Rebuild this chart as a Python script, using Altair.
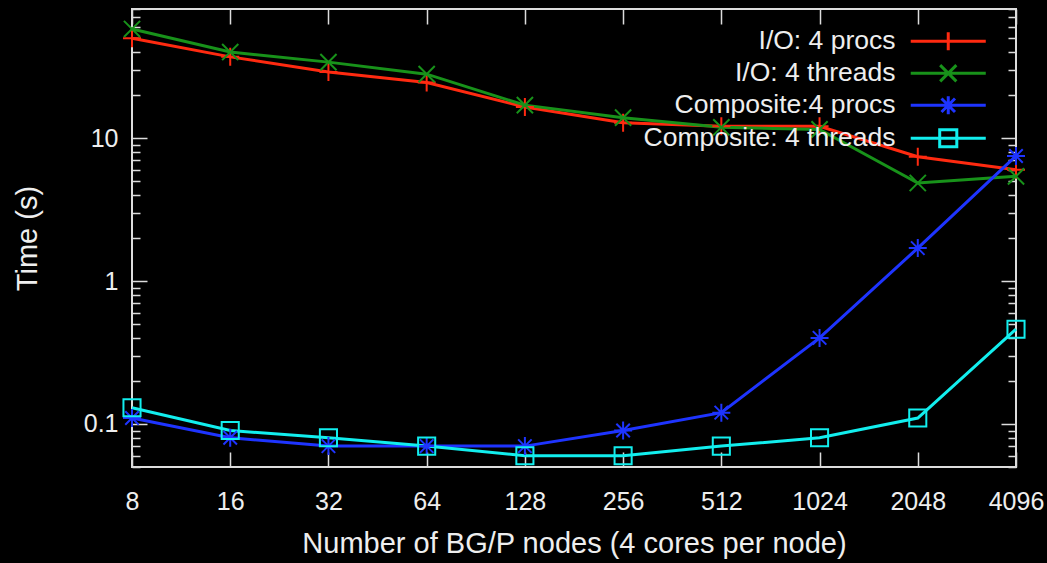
import altair as alt
import pandas as pd

# ---- data ----
nodes = [8, 16, 32, 64, 128, 256, 512, 1024, 2048, 4096]
io_procs = [50, 37, 29, 24.5, 16.5, 12.8, 12.1, 12.1, 7.4, 6.0]
io_threads = [58, 40, 34, 28, 17, 13.9, 11.9, 11.5, 4.85, 5.4]
comp_procs = [0.11, 0.08, 0.07, 0.07, 0.07, 0.09, 0.12, 0.40, 1.7, 7.5]
comp_threads = [0.13, 0.09, 0.08, 0.07, 0.06, 0.06, 0.07, 0.08, 0.11, 0.46]

series_names = ["I/O: 4 procs", "I/O: 4 threads", "Composite:4 procs", "Composite: 4 threads"]
series_colors = ["#ff2a10", "#18921a", "#1e34ff", "#12eeee"]

y_ticks = [0.05, 0.06, 0.07, 0.08, 0.09,
           0.1, 0.2, 0.3, 0.4, 0.5, 0.6, 0.7, 0.8, 0.9,
           1, 2, 3, 4, 5, 6, 7, 8, 9,
           10, 20, 30, 40, 50, 60, 70, 80]

# marker shapes (gnuplot style: +, x, *, open square)
plus = "M-1,0H1M0,-1V1"
cross = "M-0.9,-0.9L0.9,0.9M-0.9,0.9L0.9,-0.9"
star = "M-1,0H1M0,-1V1M-0.75,-0.75L0.75,0.75M-0.75,0.75L0.75,-0.75"
square = "M-0.95,-0.95H0.95V0.95H-0.95Z"
marker_paths = [plus, cross, star, square]
legend_paths = ["M-45,0M-4.17,0H4.17" + p for p in marker_paths]

rows = []
for name, vals in zip(series_names, [io_procs, io_threads, comp_procs, comp_threads]):
    for n, v in zip(nodes, vals):
        rows.append({"nodes": n, "time": v, "series": name})
df = pd.DataFrame(rows)

FONT = "Liberation Sans"
FG = "#eeeeee"
TICK = "#dcdcdc"

xscale = alt.Scale(type="log", base=2, domain=[8, 4096], nice=False)
yscale = alt.Scale(type="log", domain=[0.05, 80], nice=False)
major_expr = "indexof([0.1, 1, 10], datum.value) >= 0"
ytick_size = {"expr": major_expr + " ? -15 : -8"}

base = alt.Chart(df)

lines = base.mark_line(strokeWidth=3).encode(
    x=alt.X("nodes:Q", scale=xscale,
            axis=alt.Axis(orient="bottom", values=nodes, format="d", labelFlush=False,
                          tickSize={"expr": "-15"}, labelPadding=37, domain=False, grid=False,
                          title="Number of BG/P nodes (4 cores per node)", titlePadding=15)),
    y=alt.Y("time:Q", scale=yscale,
            axis=alt.Axis(orient="left", values=y_ticks, format="~g", labelOverlap=False,
                          labelExpr=major_expr + " ? datum.label : ''",
                          tickSize=ytick_size, labelPadding=29, domain=False, grid=False,
                          title="Time (s)", titlePadding=41)),
    color=alt.Color("series:N", scale=alt.Scale(domain=series_names, range=series_colors), legend=None),
)

points = base.mark_point(filled=False, strokeWidth=2, opacity=1, size=324).encode(
    x=alt.X("nodes:Q", scale=xscale,
            axis=alt.Axis(orient="top", values=nodes, labels=False, tickSize={"expr": "-15"},
                          domain=False, grid=False, title=None)),
    y=alt.Y("time:Q", scale=yscale,
            axis=alt.Axis(orient="right", values=y_ticks, labels=False, tickSize=ytick_size,
                          domain=False, grid=False, title=None)),
    color=alt.Color("series:N", scale=alt.Scale(domain=series_names, range=series_colors), legend=None),
    shape=alt.Shape("series:N", scale=alt.Scale(domain=series_names, range=marker_paths), legend=None),
)

leg = dict(orient="none", legendX=803, legendY=19, title=None, labelAlign="right",
           labelOffset={"expr": "-66"}, labelLimit=0, labelFontSize=26.5, labelColor=FG, labelFont=FONT,
           symbolSize=324, symbolStrokeWidth=3, symbolFillColor="transparent",
           rowPadding=2, padding=0)

legend_layer = base.transform_filter("false").mark_point(
    filled=False, strokeWidth=3, opacity=1, size=324).encode(
    x=alt.X("nodes:Q", scale=xscale, axis=None),
    y=alt.Y("time:Q", scale=yscale, axis=None),
    color=alt.Color("series:N", scale=alt.Scale(domain=series_names, range=series_colors),
                    legend=alt.Legend(**leg)),
    shape=alt.Shape("series:N", scale=alt.Scale(domain=series_names, range=legend_paths),
                    legend=alt.Legend(**leg)),
)

chart = alt.layer(lines, points, legend_layer).resolve_axis(
    x="independent", y="independent"
).resolve_scale(
    color="independent", shape="independent"
).properties(
    width=884, height=458,
    autosize=alt.AutoSizeParams(type="none"),
    padding={"left": 132, "top": 9, "right": 31, "bottom": 96},
    background="black",
).configure_view(
    stroke=TICK, strokeWidth=2
).configure_axis(
    labelFont=FONT, titleFont=FONT, labelFontSize=25, titleFontSize=29,
    labelColor=FG, titleColor=FG, titleFontWeight="normal",
    tickColor=TICK, tickWidth=1.5,
).configure_legend(
    labelFont=FONT,
)

chart.save("out.html", embed_options={"renderer": "svg", "actions": False})
